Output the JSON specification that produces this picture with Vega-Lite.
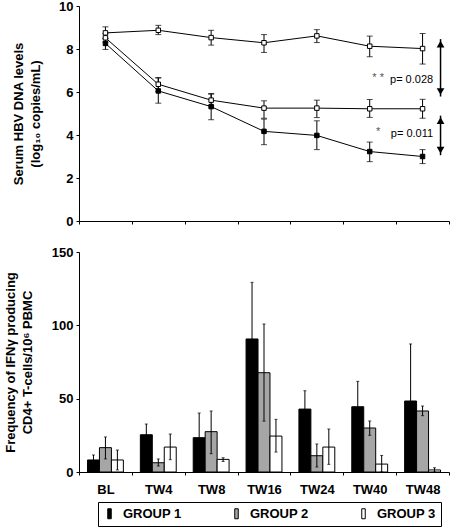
{
  "$schema": "https://vega.github.io/schema/vega-lite/v6.json",
  "background": "white",
  "padding": {"left": 4, "top": 0, "right": 0, "bottom": 0},
  "spacing": 18,
  "config": {
    "font": "Liberation Sans",
    "view": {"stroke": null},
    "axis": {
      "grid": false,
      "domainColor": "black",
      "tickColor": "black",
      "labelColor": "black",
      "titleColor": "black",
      "labelFont": "Liberation Sans",
      "labelFontWeight": "bold",
      "labelFontSize": 13,
      "titleFont": "Liberation Sans",
      "titleFontWeight": "bold",
      "titleFontSize": 13,
      "titleLineHeight": 17,
      "tickSize": 3,
      "labelPadding": 3,
      "labelOverlap": false
    },
    "legend": {
      "labelFont": "Liberation Sans",
      "labelFontWeight": "bold",
      "labelFontSize": 13,
      "labelColor": "black"
    }
  },
  "datasets": {
    "hbv": [
      {"visit": "BL", "group": "GROUP 3", "mean": 8.75, "lo": 8.49, "hi": 9.03},
      {"visit": "TW4", "group": "GROUP 3", "mean": 8.87, "lo": 8.67, "hi": 9.1},
      {"visit": "TW8", "group": "GROUP 3", "mean": 8.53, "lo": 8.18, "hi": 8.87},
      {"visit": "TW16", "group": "GROUP 3", "mean": 8.29, "lo": 7.84, "hi": 8.67},
      {"visit": "TW24", "group": "GROUP 3", "mean": 8.61, "lo": 8.3, "hi": 8.9},
      {"visit": "TW40", "group": "GROUP 3", "mean": 8.13, "lo": 7.64, "hi": 8.6},
      {"visit": "TW48", "group": "GROUP 3", "mean": 8.02, "lo": 7.3, "hi": 8.72},
      {"visit": "BL", "group": "GROUP 2", "mean": 8.52, "lo": 8.32, "hi": 8.72},
      {"visit": "TW4", "group": "GROUP 2", "mean": 6.36, "lo": 6.02, "hi": 6.67},
      {"visit": "TW8", "group": "GROUP 2", "mean": 5.62, "lo": 5.36, "hi": 5.9},
      {"visit": "TW16", "group": "GROUP 2", "mean": 5.25, "lo": 4.78, "hi": 5.59},
      {"visit": "TW24", "group": "GROUP 2", "mean": 5.25, "lo": 4.81, "hi": 5.62},
      {"visit": "TW40", "group": "GROUP 2", "mean": 5.22, "lo": 4.82, "hi": 5.65},
      {"visit": "TW48", "group": "GROUP 2", "mean": 5.22, "lo": 4.78, "hi": 5.66},
      {"visit": "BL", "group": "GROUP 1", "mean": 8.26, "lo": 7.98, "hi": 8.5},
      {"visit": "TW4", "group": "GROUP 1", "mean": 6.05, "lo": 5.48, "hi": 6.65},
      {"visit": "TW8", "group": "GROUP 1", "mean": 5.32, "lo": 4.71, "hi": 5.93},
      {"visit": "TW16", "group": "GROUP 1", "mean": 4.17, "lo": 3.55, "hi": 4.74},
      {"visit": "TW24", "group": "GROUP 1", "mean": 3.98, "lo": 3.32, "hi": 4.66},
      {"visit": "TW40", "group": "GROUP 1", "mean": 3.23, "lo": 2.76, "hi": 3.67},
      {"visit": "TW48", "group": "GROUP 1", "mean": 3.0, "lo": 2.67, "hi": 3.32}
    ],
    "notes": [
      {"visit": "TW48", "y": 6.57, "label": "p= 0.028"},
      {"visit": "TW48", "y": 4.04, "label": "p= 0.011"}
    ],
    "stars": [
      {"visit": "TW40", "y": 6.65, "label": "* *"},
      {"visit": "TW40", "y": 4.15, "label": "*"}
    ],
    "arrows": [
      {"visit": "TW48", "top": 8.46, "bottom": 5.79},
      {"visit": "TW48", "top": 4.9, "bottom": 3.06}
    ],
    "ifn": [
      {"visit": "BL", "group": "GROUP 1", "mean": 8.2, "lo": 4.8, "hi": 11.6},
      {"visit": "BL", "group": "GROUP 2", "mean": 16.6, "lo": 8.9, "hi": 23.9},
      {"visit": "BL", "group": "GROUP 3", "mean": 8.2, "lo": 1.4, "hi": 15.0},
      {"visit": "TW4", "group": "GROUP 1", "mean": 25.4, "lo": 18.1, "hi": 32.7},
      {"visit": "TW4", "group": "GROUP 2", "mean": 6.3, "lo": 4.1, "hi": 8.9},
      {"visit": "TW4", "group": "GROUP 3", "mean": 17.0, "lo": 8.4, "hi": 25.9},
      {"visit": "TW8", "group": "GROUP 1", "mean": 23.4, "lo": 6.6, "hi": 40.2},
      {"visit": "TW8", "group": "GROUP 2", "mean": 27.5, "lo": 12.5, "hi": 41.6},
      {"visit": "TW8", "group": "GROUP 3", "mean": 8.6, "lo": 7.2, "hi": 9.7},
      {"visit": "TW16", "group": "GROUP 1", "mean": 90.7, "lo": 52.1, "hi": 129.3},
      {"visit": "TW16", "group": "GROUP 2", "mean": 67.7, "lo": 34.7, "hi": 100.9},
      {"visit": "TW16", "group": "GROUP 3", "mean": 24.5, "lo": 13.6, "hi": 35.9},
      {"visit": "TW24", "group": "GROUP 1", "mean": 42.9, "lo": 30.4, "hi": 55.4},
      {"visit": "TW24", "group": "GROUP 2", "mean": 11.1, "lo": 3.4, "hi": 19.1},
      {"visit": "TW24", "group": "GROUP 3", "mean": 17.0, "lo": 5.2, "hi": 29.3},
      {"visit": "TW40", "group": "GROUP 1", "mean": 44.5, "lo": 27.2, "hi": 61.8},
      {"visit": "TW40", "group": "GROUP 2", "mean": 30.0, "lo": 25.0, "hi": 34.8},
      {"visit": "TW40", "group": "GROUP 3", "mean": 5.4, "lo": 0.0, "hi": 11.3},
      {"visit": "TW48", "group": "GROUP 1", "mean": 48.4, "lo": 9.5, "hi": 87.3},
      {"visit": "TW48", "group": "GROUP 2", "mean": 41.6, "lo": 38.4, "hi": 45.0},
      {"visit": "TW48", "group": "GROUP 3", "mean": 1.4, "lo": 0.0, "hi": 2.9}
    ]
  },
  "vconcat": [
    {
      "width": 370,
      "height": 215,
      "data": {"name": "hbv"},
      "encoding": {
        "x": {
          "field": "visit",
          "type": "nominal",
          "sort": ["BL", "TW4", "TW8", "TW16", "TW24", "TW40", "TW48"],
          "scale": {"type": "band", "paddingInner": 0, "paddingOuter": 0},
          "axis": {"labels": false, "title": null, "tickBand": "extent", "tickSize": 3}
        }
      },
      "layer": [
        {
          "mark": {"type": "line", "color": "black", "strokeWidth": 1},
          "encoding": {
            "y": {
              "field": "mean",
              "type": "quantitative",
              "scale": {"domain": [0, 10], "nice": false},
              "axis": {
                "values": [0, 1, 2, 3, 4, 5, 6, 7, 8, 9, 10],
                "title": ["Serum HBV DNA levels", "(log₁₀ copies/mL)"],
                "titlePadding": 16
              }
            },
            "detail": {"field": "group"}
          }
        },
        {
          "mark": {"type": "rule", "color": "black", "strokeWidth": 1},
          "encoding": {
            "y": {"field": "lo", "type": "quantitative", "scale": {"domain": [0, 10], "nice": false}},
            "y2": {"field": "hi"}
          }
        },
        {
          "mark": {"type": "tick", "color": "black", "size": 6, "thickness": 1},
          "encoding": {"y": {"field": "lo", "type": "quantitative", "scale": {"domain": [0, 10], "nice": false}}}
        },
        {
          "mark": {"type": "tick", "color": "black", "size": 6, "thickness": 1},
          "encoding": {"y": {"field": "hi", "type": "quantitative", "scale": {"domain": [0, 10], "nice": false}}}
        },
        {
          "mark": {"type": "point", "shape": "square", "size": 20, "filled": true, "stroke": "black", "strokeWidth": 1, "opacity": 1},
          "encoding": {
            "y": {"field": "mean", "type": "quantitative", "scale": {"domain": [0, 10], "nice": false}},
            "fill": {
              "field": "group",
              "type": "nominal",
              "scale": {"domain": ["GROUP 1", "GROUP 2", "GROUP 3"], "range": ["black", "white", "white"]},
              "legend": null
            }
          }
        },
        {
          "data": {"name": "notes"},
          "mark": {"type": "text", "align": "right", "baseline": "middle", "fontSize": 11, "font": "Liberation Sans", "color": "black"},
          "encoding": {
            "x": {"field": "visit", "type": "nominal", "bandPosition": 0.7},
            "y": {"field": "y", "type": "quantitative", "scale": {"domain": [0, 10], "nice": false}},
            "text": {"field": "label"}
          }
        },
        {
          "data": {"name": "stars"},
          "mark": {"type": "text", "align": "center", "baseline": "middle", "fontSize": 11, "font": "Liberation Sans", "color": "#555555"},
          "encoding": {
            "x": {"field": "visit", "type": "nominal", "bandPosition": 0.66},
            "y": {"field": "y", "type": "quantitative", "scale": {"domain": [0, 10], "nice": false}},
            "text": {"field": "label"}
          }
        },
        {
          "data": {"name": "arrows"},
          "mark": {"type": "rule", "color": "black", "strokeWidth": 1.5},
          "encoding": {
            "x": {"field": "visit", "type": "nominal", "bandPosition": 0.84},
            "y": {"field": "top", "type": "quantitative", "scale": {"domain": [0, 10], "nice": false}},
            "y2": {"field": "bottom"}
          }
        },
        {
          "data": {"name": "arrows"},
          "mark": {"type": "point", "shape": "triangle-up", "size": 60, "filled": true, "color": "black", "opacity": 1, "yOffset": 5},
          "encoding": {
            "x": {"field": "visit", "type": "nominal", "bandPosition": 0.84},
            "y": {"field": "top", "type": "quantitative", "scale": {"domain": [0, 10], "nice": false}}
          }
        },
        {
          "data": {"name": "arrows"},
          "mark": {"type": "point", "shape": "triangle-down", "size": 60, "filled": true, "color": "black", "opacity": 1, "yOffset": -5},
          "encoding": {
            "x": {"field": "visit", "type": "nominal", "bandPosition": 0.84},
            "y": {"field": "bottom", "type": "quantitative", "scale": {"domain": [0, 10], "nice": false}}
          }
        }
      ]
    },
    {
      "width": 370,
      "height": 220,
      "data": {"name": "ifn"},
      "encoding": {
        "x": {
          "field": "visit",
          "type": "nominal",
          "sort": ["BL", "TW4", "TW8", "TW16", "TW24", "TW40", "TW48"],
          "scale": {"type": "band", "paddingInner": 0, "paddingOuter": 0},
          "axis": {"title": null, "tickBand": "extent", "tickSize": 3, "labelPadding": 8, "labelAngle": 0}
        },
        "xOffset": {
          "field": "group",
          "type": "nominal",
          "scale": {"paddingInner": 0, "paddingOuter": 0.71}
        }
      },
      "layer": [
        {
          "mark": {"type": "bar", "stroke": "black", "strokeWidth": 1},
          "encoding": {
            "y": {
              "field": "mean",
              "type": "quantitative",
              "scale": {"domain": [0, 150], "nice": false},
              "axis": {
                "values": [0, 50, 100, 150],
                "title": ["Frequency of IFNγ producing", "CD4+ T-cells/10⁶ PBMC"],
                "titlePadding": 17
              }
            },
            "fill": {
              "field": "group",
              "type": "nominal",
              "scale": {"domain": ["GROUP 1", "GROUP 2", "GROUP 3"], "range": ["black", "#a6a6a6", "white"]},
              "legend": {
                "title": null,
                "orient": "none",
                "legendX": 19,
                "legendY": 250,
                "direction": "horizontal",
                "strokeColor": "black",
                "padding": 5,
                "symbolType": "M-0.35,-1L0.35,-1L0.35,1L-0.35,1Z",
                "symbolSize": 100,
                "symbolStrokeColor": "black",
                "symbolStrokeWidth": 1,
                "labelOffset": 7,
                "columnPadding": 48
              }
            }
          }
        },
        {
          "mark": {"type": "rule", "color": "black", "strokeWidth": 1},
          "encoding": {
            "y": {"field": "lo", "type": "quantitative", "scale": {"domain": [0, 150], "nice": false}},
            "y2": {"field": "hi"}
          }
        },
        {
          "mark": {"type": "tick", "color": "black", "size": 3, "thickness": 1},
          "encoding": {"y": {"field": "lo", "type": "quantitative", "scale": {"domain": [0, 150], "nice": false}}}
        },
        {
          "mark": {"type": "tick", "color": "black", "size": 3, "thickness": 1},
          "encoding": {"y": {"field": "hi", "type": "quantitative", "scale": {"domain": [0, 150], "nice": false}}}
        }
      ]
    }
  ],
  "resolve": {"scale": {"fill": "independent"}, "legend": {"fill": "independent"}}
}
